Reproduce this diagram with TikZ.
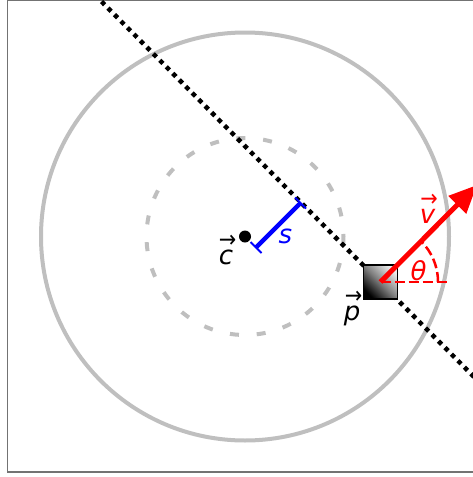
\documentclass[tikz,border=0pt]{standalone}
\usepackage{fontspec}
\usepackage{graphicx}
\setmainfont{DejaVu Sans}
\usetikzlibrary{arrows.meta,shadings,calc}
\newcommand\vlab[1]{\ooalign{\hfil\kern0.12em\raisebox{0.64em}{\scalebox{0.8}[0.9]{→}}\hfil\cr\hfil\itshape #1\hfil\cr}}
\begin{document}
\begin{tikzpicture}[x=1pt,y=-1pt,
  lab/.style={font=\fontsize{26}{26}\selectfont, anchor=base, inner sep=0pt},
  framestyle/.style={draw=black!55, line width=1.5pt},
  bigcirc/.style={draw=black!25, line width=4pt},
  dashcirc/.style={draw=black!25, line width=4pt, dash pattern=on 9pt off 17.8pt},
  dotline/.style={line width=4.5pt, dash pattern=on 4.5pt off 4.7pt},
  blueseg/.style={draw=blue, line width=4.5pt},
  bluetick/.style={draw=blue, line width=2pt},
  redarrow/.style={draw=red, line width=5pt, -{Triangle[length=28pt,width=24pt]}},
  reddash/.style={draw=red, line width=2.5pt, dash pattern=on 10pt off 4pt}]
\useasboundingbox (0,0) rectangle (473,477);
\clip (0,0) rectangle (473,477);
\draw[framestyle] (7.5,0.5) rectangle (500,472);
\coordinate (C) at (245,236.5);
\coordinate (P) at (380.5,282);
\draw[bigcirc] (C) circle[radius=204];
\draw[dashcirc] (C) circle[radius=98.5];
\coordinate (L1) at (95,-5);
\coordinate (L2) at (490,393);
\draw[dotline] (L1) -- (L2);
% square
\shade[shading=axis, top color=black!8, bottom color=black, middle color=black!50, shading angle=-45] (363.5,265) rectangle (397.5,299);
\draw[black, line width=1.5pt] (363.5,265) rectangle (397.5,299);
% red
\coordinate (Vt) at (477,185);
\coordinate (H) at (447,282);
\draw[reddash] (P) -- (H);
\draw[reddash] plot[domain=0:45, samples=40, smooth] ({380.5+57.5*cos(\x)},{282-57.5*sin(\x)});
\draw[redarrow] (P) -- (Vt);
% blue
\coordinate (S1) at (256,247.5);
\coordinate (S2) at (300.5,203);
\draw[blueseg] (S1) -- (S2);
\draw[bluetick] ($(S1)+(-5.5,-5.5)$) -- ($(S1)+(5.5,5.5)$);
\draw[bluetick] ($(S2)+(-5.5,-5.5)$) -- ($(S2)+(5.5,5.5)$);
\fill[black] (C) circle[radius=6];
% labels
\node[lab] (cl) at (226,264) {\vlab{c}};
\node[lab] (pl) at (352,320) {\vlab{p}};
\node[lab, text=blue] (sl) at (285.5,243) {\itshape s};
\node[lab, text=red] (vl) at (427.5,223) {\vlab{v}};
\node[lab, text=red] (tl) at (418.5,280) {\itshape θ};
\end{tikzpicture}
\end{document}
